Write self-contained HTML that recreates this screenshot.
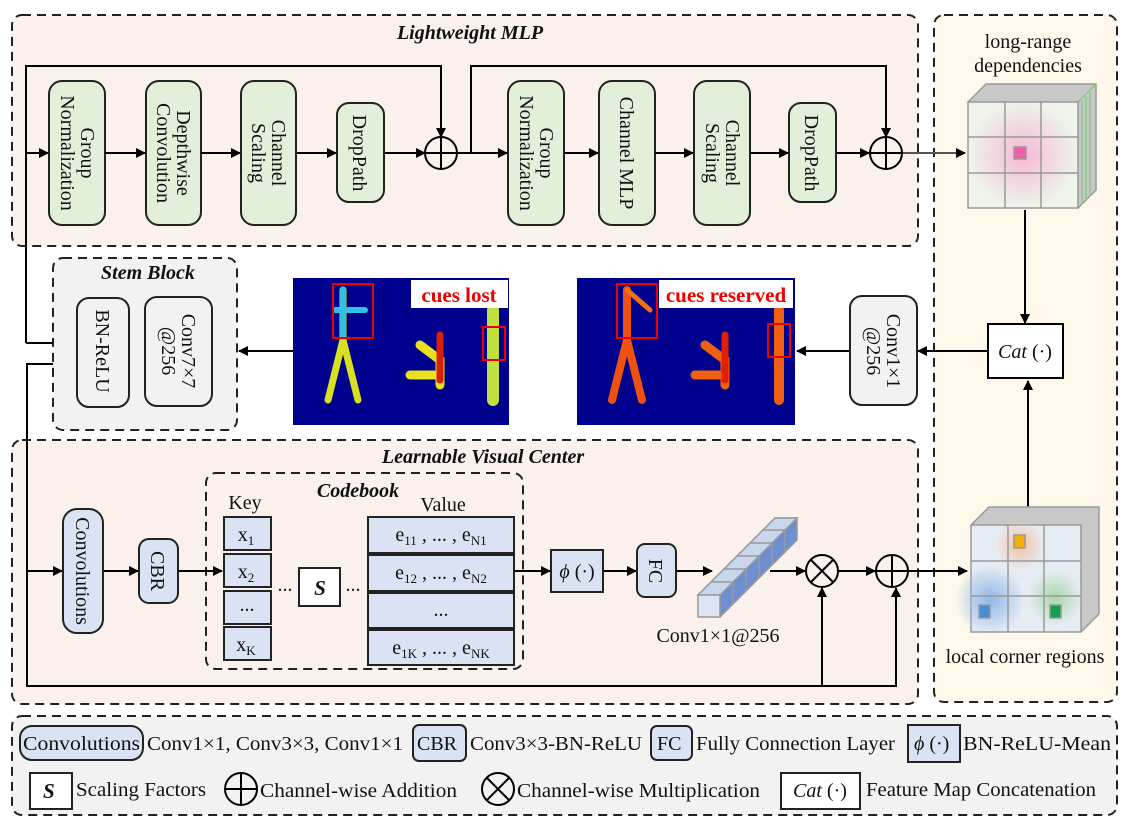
<!DOCTYPE html>
<html><head><meta charset="utf-8"><style>
body{margin:0;background:#fff}
svg text{font-family:"Liberation Serif",serif;fill:#111}
</style></head><body>
<svg width="1125" height="825" viewBox="0 0 1125 825" xmlns="http://www.w3.org/2000/svg">
<defs>
<marker id="a" markerWidth="10" markerHeight="10" refX="9" refY="5" orient="auto" markerUnits="userSpaceOnUse"><path d="M0,0 L10,5 L0,10 z" fill="#000"/></marker>
<radialGradient id="pink"><stop offset="0" stop-color="#f6b8d6"/><stop offset="1" stop-color="#eef4ea"/></radialGradient>
<radialGradient id="rb"><stop offset="0" stop-color="#8fb6e8"/><stop offset="1" stop-color="#8fb6e8" stop-opacity="0"/></radialGradient>
<radialGradient id="rg"><stop offset="0" stop-color="#a8d8a8"/><stop offset="1" stop-color="#a8d8a8" stop-opacity="0"/></radialGradient>
<radialGradient id="ro"><stop offset="0" stop-color="#f4c0a0"/><stop offset="1" stop-color="#f4c0a0" stop-opacity="0"/></radialGradient>
</defs>
<g stroke="#222" stroke-width="2" stroke-dasharray="9,6">
<rect x="12" y="15" width="906" height="231" rx="10" fill="#faf0ec"/>
<rect x="934" y="15" width="183" height="687" rx="10" fill="#fdf8ea"/>
<rect x="12" y="440" width="906" height="264" rx="10" fill="#faf0ec"/>
<rect x="53" y="258" width="184" height="172" rx="10" fill="#f2f2f2"/>
<rect x="206" y="473" width="317" height="196" rx="10" fill="#faf0ec"/>
<rect x="12" y="716" width="1105" height="99" rx="10" fill="#f2f2f2"/>
</g>
<g font-style="italic" font-weight="bold" font-size="20" text-anchor="middle">
<text x="470" y="39">Lightweight MLP</text>
<text x="148" y="279">Stem Block</text>
<text x="483" y="463">Learnable Visual Center</text>
<text x="358" y="497">Codebook</text>
</g>
<g fill="#e2efd9" stroke="#222" stroke-width="2">
<rect x="49" y="81" width="56" height="144" rx="13"/>
<rect x="146" y="81" width="55" height="144" rx="13"/>
<rect x="241" y="81" width="55" height="144" rx="13"/>
<rect x="337" y="103" width="47" height="99" rx="12"/>
<rect x="508" y="81" width="56" height="144" rx="13"/>
<rect x="599" y="81" width="56" height="144" rx="13"/>
<rect x="694" y="81" width="56" height="144" rx="13"/>
<rect x="789" y="103" width="47" height="99" rx="12"/>
</g>
<g font-size="20" text-anchor="middle">
<text transform="translate(77,153) rotate(90)"><tspan x="0" y="-4">Group</tspan><tspan x="0" y="16">Normalization</tspan></text>
<text transform="translate(173,153) rotate(90)"><tspan x="0" y="-4">Depthwise</tspan><tspan x="0" y="16">Convolution</tspan></text>
<text transform="translate(268,153) rotate(90)"><tspan x="0" y="-4">Channel</tspan><tspan x="0" y="16">Scaling</tspan></text>
<text transform="translate(360,153) rotate(90)" y="7">DropPath</text>
<text transform="translate(536,153) rotate(90)"><tspan x="0" y="-4">Group</tspan><tspan x="0" y="16">Normalization</tspan></text>
<text transform="translate(627,153) rotate(90)" y="7">Channel MLP</text>
<text transform="translate(722,153) rotate(90)"><tspan x="0" y="-4">Channel</tspan><tspan x="0" y="16">Scaling</tspan></text>
<text transform="translate(812,153) rotate(90)" y="7">DropPath</text>
</g>
<g stroke="#000" stroke-width="2" fill="none">
<path d="M26,153 H48" marker-end="url(#a)"/>
<path d="M105,153 H145" marker-end="url(#a)"/>
<path d="M201,153 H240" marker-end="url(#a)"/>
<path d="M296,153 H336" marker-end="url(#a)"/>
<path d="M384,153 H425" marker-end="url(#a)"/>
<path d="M26,343 V66 H441 V137" marker-end="url(#a)"/>
<path d="M457,153 H507" marker-end="url(#a)"/>
<path d="M471,153 V66 H886 V137" marker-end="url(#a)"/>
<path d="M564,153 H598" marker-end="url(#a)"/>
<path d="M655,153 H693" marker-end="url(#a)"/>
<path d="M750,153 H788" marker-end="url(#a)"/>
<path d="M836,153 H869" marker-end="url(#a)"/>
<path d="M902,153 H965" stroke="#555" marker-end="url(#a)"/>
<circle cx="441" cy="153" r="16"/><path d="M425,153H457M441,137V169"/>
<circle cx="886" cy="153" r="16"/><path d="M870,153H902M886,137V169"/>
<path d="M26,343 H53"/>
<path d="M53,364 H27 V686 H896 V588" marker-end="url(#a)"/>
<path d="M822,686 V588" marker-end="url(#a)"/>
<path d="M27,571 H62" marker-end="url(#a)"/>
<path d="M103,571 H138" marker-end="url(#a)"/>
<path d="M178,571 H222" marker-end="url(#a)"/>
<path d="M514,571 H550" marker-end="url(#a)"/>
<path d="M603,571 H636" marker-end="url(#a)"/>
<path d="M676,571 H712" marker-end="url(#a)"/>
<path d="M770,571 H805" marker-end="url(#a)"/>
<path d="M838,571 H875" marker-end="url(#a)"/>
<path d="M908,571 H967" marker-end="url(#a)"/>
<circle cx="822" cy="571" r="16"/><path d="M811,560L833,582M833,560L811,582"/>
<circle cx="892" cy="571" r="16"/><path d="M876,571H908M892,555V587"/>
<path d="M1025,210 V323" marker-end="url(#a)"/>
<path d="M1028,520 V381" marker-end="url(#a)"/>
<path d="M988,351 H918" marker-end="url(#a)"/>
<path d="M850,351 H797" marker-end="url(#a)"/>
<path d="M293,351 H239" marker-end="url(#a)"/>
</g>
<text x="1028" y="48" font-size="20" text-anchor="middle">long-range</text>
<text x="1028" y="72" font-size="20" text-anchor="middle">dependencies</text>
<g stroke="#999" stroke-width="1.5">
<path d="M968,102 L986,84 H1096 V190 L1078,208" fill="#c8c8c8"/>
<path d="M1078,102 L1096,84 M1082,100 V205 M1086,96 V200 M1090,92 V196" stroke="#8c8"/>
<rect x="968" y="102" width="110" height="106" fill="url(#pink)"/>
<path d="M1005,102V208M1041,102V208M968,137H1078M968,173H1078"/>
<rect x="1014" y="147" width="12" height="12" fill="#f060a8" stroke="#999"/>
<path d="M971,525 L989,507 H1099 V614 L1081,632" fill="#c8c8c8"/>
<rect x="971" y="525" width="110" height="107" fill="#e6ecf4"/>
<circle cx="1020" cy="545" r="25" fill="url(#ro)" stroke="none"/>
<circle cx="990" cy="600" r="35" fill="url(#rb)" stroke="none"/>
<circle cx="1055" cy="598" r="28" fill="url(#rg)" stroke="none"/>
<path d="M1008,525V632M1044,525V632M971,561H1081M971,596H1081" fill="none"/>
<rect x="1014" y="535" width="11" height="13" fill="#f0b000"/>
<rect x="979" y="605" width="11" height="13" fill="#4b8ed0"/>
<rect x="1050" y="605" width="11" height="13" fill="#10a050"/>
</g>
<text x="1025" y="663" font-size="20" text-anchor="middle">local corner regions</text>
<rect x="988" y="324" width="75" height="54" fill="#fff" stroke="#000" stroke-width="2"/>
<text x="1025" y="358" font-size="20" text-anchor="middle"><tspan font-style="italic">Cat</tspan> (·)</text>
<rect x="850" y="296" width="67" height="109" rx="12" fill="#f2f2f2" stroke="#222" stroke-width="2"/>
<text transform="translate(883,351) rotate(90)" font-size="20" text-anchor="middle"><tspan x="0" y="-4">Conv1×1</tspan><tspan x="0" y="16">@256</tspan></text>
<rect x="77" y="298" width="52" height="109" rx="12" fill="#f2f2f2" stroke="#222" stroke-width="2"/>
<rect x="145" y="297" width="67" height="109" rx="12" fill="#f2f2f2" stroke="#222" stroke-width="2"/>
<text transform="translate(103,351) rotate(90)" font-size="20" text-anchor="middle" y="7">BN-ReLU</text>
<text transform="translate(178,351) rotate(90)" font-size="20" text-anchor="middle"><tspan x="0" y="-4">Conv7×7</tspan><tspan x="0" y="16">@256</tspan></text>
<g>
<rect x="293" y="278" width="216" height="147" fill="#00008e"/>
<g fill="none" stroke-linecap="round">
<path d="M343,290 V340 M343,340 L328,400 M343,340 L358,400" stroke="#d8e020" stroke-width="7"/>
<path d="M343,290 V335 M335,310 H365" stroke="#30c0e0" stroke-width="6"/>
<path d="M420,345 L440,360 V385 M410,375 L440,375" stroke="#e8e020" stroke-width="9"/>
<path d="M440,335 V380" stroke="#d82000" stroke-width="7"/>
<path d="M493,310 V400" stroke="#c0e040" stroke-width="12"/>
</g>
<rect x="333" y="284" width="40" height="54" fill="none" stroke="#e00" stroke-width="2"/>
<rect x="483" y="327" width="22" height="33" fill="none" stroke="#e00" stroke-width="2"/>
<rect x="411" y="280" width="97" height="28" fill="#fff"/>
<text x="459" y="302" font-size="21" font-weight="bold" text-anchor="middle" style="fill:#e00">cues lost</text>
<rect x="577" y="278" width="218" height="147" fill="#00008e"/>
<g fill="none" stroke-linecap="round">
<path d="M627,290 V340 M627,340 L612,400 M627,340 L642,400" stroke="#f05010" stroke-width="8"/>
<path d="M627,290 L650,310" stroke="#f07010" stroke-width="5"/>
<path d="M705,345 L725,360 V385 M695,375 L725,375" stroke="#f06010" stroke-width="9"/>
<path d="M725,335 V380" stroke="#e02000" stroke-width="7"/>
<path d="M779,310 V400" stroke="#f06010" stroke-width="10"/>
</g>
<rect x="617" y="284" width="40" height="54" fill="none" stroke="#e00" stroke-width="2"/>
<rect x="768" y="324" width="22" height="33" fill="none" stroke="#e00" stroke-width="2"/>
<rect x="659" y="280" width="134" height="28" fill="#fff"/>
<text x="726" y="302" font-size="21" font-weight="bold" text-anchor="middle" style="fill:#e00">cues reserved</text>
</g>
<g fill="#dae3f3" stroke="#222" stroke-width="2">
<rect x="63" y="509" width="40" height="124" rx="14"/>
<rect x="139" y="539" width="39" height="64" rx="10"/>
<rect x="224" y="517" width="47" height="33"/>
<rect x="224" y="554" width="47" height="33"/>
<rect x="224" y="591" width="47" height="33"/>
<rect x="224" y="627" width="47" height="33"/>
<rect x="368" y="517" width="146" height="36"/>
<rect x="368" y="555" width="146" height="36"/>
<rect x="368" y="593" width="146" height="35"/>
<rect x="368" y="630" width="146" height="35"/>
<rect x="551" y="550" width="52" height="42"/>
<rect x="637" y="544" width="39" height="53" rx="8"/>
</g>
<rect x="299" y="568" width="41" height="38" fill="#fff" stroke="#222" stroke-width="2"/>
<g font-size="20" text-anchor="middle">
<text transform="translate(83,571) rotate(90)" y="7">Convolutions</text>
<text transform="translate(158,571) rotate(90)" y="7">CBR</text>
<text transform="translate(656,571) rotate(90)" y="7">FC</text>
<text x="245" y="509">Key</text><text x="443" y="511">Value</text>
<text x="246" y="541">x<tspan font-size="13" dy="4">1</tspan></text>
<text x="246" y="578">x<tspan font-size="13" dy="4">2</tspan></text>
<text x="247" y="611">...</text>
<text x="246" y="651">x<tspan font-size="13" dy="4">K</tspan></text>
<text x="441" y="541">e<tspan font-size="13" dy="4">11</tspan><tspan dy="-4"> , ... , e</tspan><tspan font-size="13" dy="4">N1</tspan></text>
<text x="441" y="579">e<tspan font-size="13" dy="4">12</tspan><tspan dy="-4"> , ... , e</tspan><tspan font-size="13" dy="4">N2</tspan></text>
<text x="441" y="616">...</text>
<text x="441" y="654">e<tspan font-size="13" dy="4">1K</tspan><tspan dy="-4"> , ... , e</tspan><tspan font-size="13" dy="4">NK</tspan></text>
<text x="285" y="591">...</text><text x="353" y="591">...</text>
<text x="320" y="595" font-style="italic" font-weight="bold" font-size="21">S</text>
<text x="577" y="578"><tspan font-style="italic">ϕ</tspan> (·)</text>
<text x="718" y="642">Conv1×1@256</text>
</g>
<g stroke="#999" stroke-width="1.5">
<path d="M698,595 L775,518 H797 V540 L720,617 Z" fill="#6f90d0"/>
<path d="M698,595 L775,518 H797 L720,595 Z" fill="#c8d6ee"/>
<rect x="698" y="595" width="22" height="22" fill="#dde5f4"/>
<path d="M733,582 H711 M746,569 H724 M759,556 H737 M772,543 H750 M785,530 H763 M733,582 V604 M746,569 V591 M759,556 V578 M772,543 V565 M785,530 V552" fill="none"/>
</g>
<g fill="#dae3f3" stroke="#222" stroke-width="2">
<rect x="20" y="726" width="123" height="34" rx="12"/>
<rect x="413" y="725" width="53" height="36" rx="6"/>
<rect x="651" y="726" width="41" height="34" rx="6"/>
<rect x="908" y="725" width="52" height="37"/>
</g>
<rect x="30" y="773" width="42" height="36" fill="#fff" stroke="#222" stroke-width="2"/>
<rect x="781" y="773" width="79" height="36" fill="#fff" stroke="#222" stroke-width="2"/>
<g stroke="#000" stroke-width="2" fill="none">
<circle cx="241" cy="789" r="16"/><path d="M225,789H257M241,773V805"/>
<circle cx="498" cy="789" r="16"/><path d="M487,778L509,800M509,778L487,800"/>
</g>
<g font-size="20">
<text x="23" y="750" textLength="117" lengthAdjust="spacingAndGlyphs">Convolutions</text>
<text x="147" y="750" textLength="256" lengthAdjust="spacingAndGlyphs">Conv1×1, Conv3×3, Conv1×1</text>
<text x="417" y="750">CBR</text>
<text x="470" y="750" textLength="172" lengthAdjust="spacingAndGlyphs">Conv3×3-BN-ReLU</text>
<text x="657" y="750">FC</text>
<text x="696" y="750" textLength="199" lengthAdjust="spacingAndGlyphs">Fully Connection Layer</text>
<text x="914" y="750"><tspan font-style="italic">ϕ</tspan> (·)</text>
<text x="963" y="750" textLength="148" lengthAdjust="spacingAndGlyphs">BN-ReLU-Mean</text>
<text x="43" y="798" font-style="italic" font-weight="bold" font-size="21">S</text>
<text x="76" y="796" textLength="130" lengthAdjust="spacingAndGlyphs">Scaling Factors</text>
<text x="260" y="797" textLength="197" lengthAdjust="spacingAndGlyphs">Channel-wise Addition</text>
<text x="517" y="797" textLength="243" lengthAdjust="spacingAndGlyphs">Channel-wise Multiplication</text>
<text x="793" y="797"><tspan font-style="italic">Cat</tspan> (·)</text>
<text x="866" y="796" textLength="230" lengthAdjust="spacingAndGlyphs">Feature Map Concatenation</text>
</g>
</svg>
</body></html>
